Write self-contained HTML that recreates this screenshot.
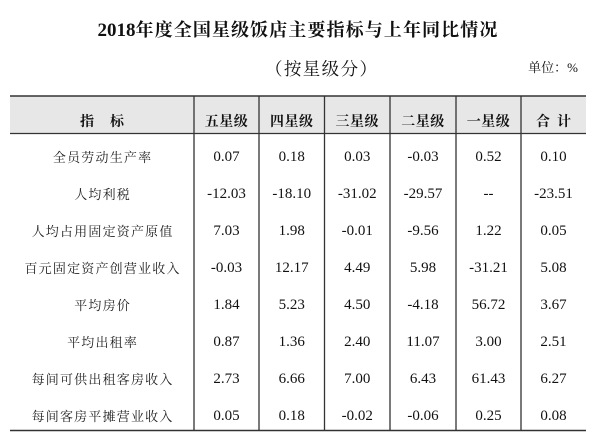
<!DOCTYPE html>
<html>
<head>
<meta charset="utf-8">
<style>
  html, body { margin:0; padding:0; background:#fff; }
  #c { position:relative; width:600px; height:440px; overflow:hidden; background:#fff; }
  .t { position:absolute; white-space:nowrap; color:#111; }
  .title { left:0; width:596px; top:14px; height:30px; line-height:30px; text-align:center; font-weight:bold; }
  .title .n { font-family:"Liberation Serif", serif; font-size:19px; font-weight:bold; }
  .title .c { font-family:"Noto Serif CJK SC", "Liberation Serif", serif; font-size:18px; letter-spacing:1.1px; font-weight:bold; }
  .sub { left:221px; width:200px; top:57px; height:24px; line-height:24px; text-align:center;
         font-family:"Liberation Serif","Noto Serif CJK SC", serif; font-size:17.5px; letter-spacing:1.4px; padding-left:1.4px; box-sizing:border-box; }
  .unit { right:22px; top:59px; height:18px; line-height:18px; font-family:"Liberation Serif","Noto Serif CJK SC", serif; font-size:13px; }
  .h { position:absolute; top:110px; height:22px; line-height:22px; text-align:center;
       font-family:"Noto Serif CJK SC","Liberation Serif", serif; font-size:14px; font-weight:bold; color:#111; white-space:nowrap; }
  .lab { position:absolute; left:10px; width:184px; height:20px; line-height:20px; text-align:center;
         font-family:"Noto Serif CJK SC","Liberation Serif", serif; font-size:13px; letter-spacing:1.2px; padding-left:1.2px; box-sizing:border-box; color:#222; white-space:nowrap; }
  .num { position:absolute; height:20px; line-height:20px; text-align:center;
         font-family:"Liberation Serif", serif; font-size:15px; color:#111; white-space:nowrap; }
</style>
</head>
<body>
<div id="c">
  <svg width="600" height="440" style="position:absolute;left:0;top:0">
    <rect x="10" y="96" width="576" height="37.5" fill="#e7e7e7"/>
    <line x1="10" y1="96" x2="586" y2="96" stroke="#333" stroke-width="1.6"/>
    <line x1="10" y1="133.5" x2="586" y2="133.5" stroke="#333" stroke-width="1.3"/>
    <line x1="10" y1="430.5" x2="586" y2="430.5" stroke="#333" stroke-width="1.6"/>
    <g stroke="#333" stroke-width="1.3">
      <line x1="194" y1="96" x2="194" y2="430.5"/>
      <line x1="259" y1="96" x2="259" y2="430.5"/>
      <line x1="324.5" y1="96" x2="324.5" y2="430.5"/>
      <line x1="390" y1="96" x2="390" y2="430.5"/>
      <line x1="456" y1="96" x2="456" y2="430.5"/>
      <line x1="521" y1="96" x2="521" y2="430.5"/>
    </g>
  </svg>

  <div class="t title"><span class="n">2018</span><span class="c">年度全国星级饭店主要指标与上年同比情况</span></div>
  <div class="t sub">（按星级分）</div>
  <div class="t unit">单位：%</div>

  <div class="h" style="left:10px;width:184px;letter-spacing:16px;padding-left:16px;box-sizing:border-box;">指标</div>
  <div class="h" style="left:194px;width:65px;letter-spacing:0.5px;">五星级</div>
  <div class="h" style="left:259px;width:65.5px;letter-spacing:0.5px;">四星级</div>
  <div class="h" style="left:324.5px;width:65.5px;letter-spacing:0.5px;">三星级</div>
  <div class="h" style="left:390px;width:66px;letter-spacing:0.5px;">二星级</div>
  <div class="h" style="left:456px;width:65px;letter-spacing:0.5px;">一星级</div>
  <div class="h" style="left:521px;width:65px;letter-spacing:7px;padding-left:7px;box-sizing:border-box;">合计</div>

  <div class="lab" style="top:146.7px">全员劳动生产率</div>
  <div class="lab" style="top:183.7px">人均利税</div>
  <div class="lab" style="top:220.7px">人均占用固定资产原值</div>
  <div class="lab" style="top:257.7px">百元固定资产创营业收入</div>
  <div class="lab" style="top:294.7px">平均房价</div>
  <div class="lab" style="top:331.7px">平均出租率</div>
  <div class="lab" style="top:368.7px">每间可供出租客房收入</div>
  <div class="lab" style="top:405.7px">每间客房平摊营业收入</div>

  <div class="num" style="left:194px;width:65px;top:146.7px">0.07</div>
  <div class="num" style="left:194px;width:65px;top:183.7px">-12.03</div>
  <div class="num" style="left:194px;width:65px;top:220.7px">7.03</div>
  <div class="num" style="left:194px;width:65px;top:257.7px">-0.03</div>
  <div class="num" style="left:194px;width:65px;top:294.7px">1.84</div>
  <div class="num" style="left:194px;width:65px;top:331.7px">0.87</div>
  <div class="num" style="left:194px;width:65px;top:368.7px">2.73</div>
  <div class="num" style="left:194px;width:65px;top:405.7px">0.05</div>

  <div class="num" style="left:259px;width:65.5px;top:146.7px">0.18</div>
  <div class="num" style="left:259px;width:65.5px;top:183.7px">-18.10</div>
  <div class="num" style="left:259px;width:65.5px;top:220.7px">1.98</div>
  <div class="num" style="left:259px;width:65.5px;top:257.7px">12.17</div>
  <div class="num" style="left:259px;width:65.5px;top:294.7px">5.23</div>
  <div class="num" style="left:259px;width:65.5px;top:331.7px">1.36</div>
  <div class="num" style="left:259px;width:65.5px;top:368.7px">6.66</div>
  <div class="num" style="left:259px;width:65.5px;top:405.7px">0.18</div>

  <div class="num" style="left:324.5px;width:65.5px;top:146.7px">0.03</div>
  <div class="num" style="left:324.5px;width:65.5px;top:183.7px">-31.02</div>
  <div class="num" style="left:324.5px;width:65.5px;top:220.7px">-0.01</div>
  <div class="num" style="left:324.5px;width:65.5px;top:257.7px">4.49</div>
  <div class="num" style="left:324.5px;width:65.5px;top:294.7px">4.50</div>
  <div class="num" style="left:324.5px;width:65.5px;top:331.7px">2.40</div>
  <div class="num" style="left:324.5px;width:65.5px;top:368.7px">7.00</div>
  <div class="num" style="left:324.5px;width:65.5px;top:405.7px">-0.02</div>

  <div class="num" style="left:390px;width:66px;top:146.7px">-0.03</div>
  <div class="num" style="left:390px;width:66px;top:183.7px">-29.57</div>
  <div class="num" style="left:390px;width:66px;top:220.7px">-9.56</div>
  <div class="num" style="left:390px;width:66px;top:257.7px">5.98</div>
  <div class="num" style="left:390px;width:66px;top:294.7px">-4.18</div>
  <div class="num" style="left:390px;width:66px;top:331.7px">11.07</div>
  <div class="num" style="left:390px;width:66px;top:368.7px">6.43</div>
  <div class="num" style="left:390px;width:66px;top:405.7px">-0.06</div>

  <div class="num" style="left:456px;width:65px;top:146.7px">0.52</div>
  <div class="num" style="left:456px;width:65px;top:183.7px">--</div>
  <div class="num" style="left:456px;width:65px;top:220.7px">1.22</div>
  <div class="num" style="left:456px;width:65px;top:257.7px">-31.21</div>
  <div class="num" style="left:456px;width:65px;top:294.7px">56.72</div>
  <div class="num" style="left:456px;width:65px;top:331.7px">3.00</div>
  <div class="num" style="left:456px;width:65px;top:368.7px">61.43</div>
  <div class="num" style="left:456px;width:65px;top:405.7px">0.25</div>

  <div class="num" style="left:521px;width:65px;top:146.7px">0.10</div>
  <div class="num" style="left:521px;width:65px;top:183.7px">-23.51</div>
  <div class="num" style="left:521px;width:65px;top:220.7px">0.05</div>
  <div class="num" style="left:521px;width:65px;top:257.7px">5.08</div>
  <div class="num" style="left:521px;width:65px;top:294.7px">3.67</div>
  <div class="num" style="left:521px;width:65px;top:331.7px">2.51</div>
  <div class="num" style="left:521px;width:65px;top:368.7px">6.27</div>
  <div class="num" style="left:521px;width:65px;top:405.7px">0.08</div>
</div>
</body>
</html>
